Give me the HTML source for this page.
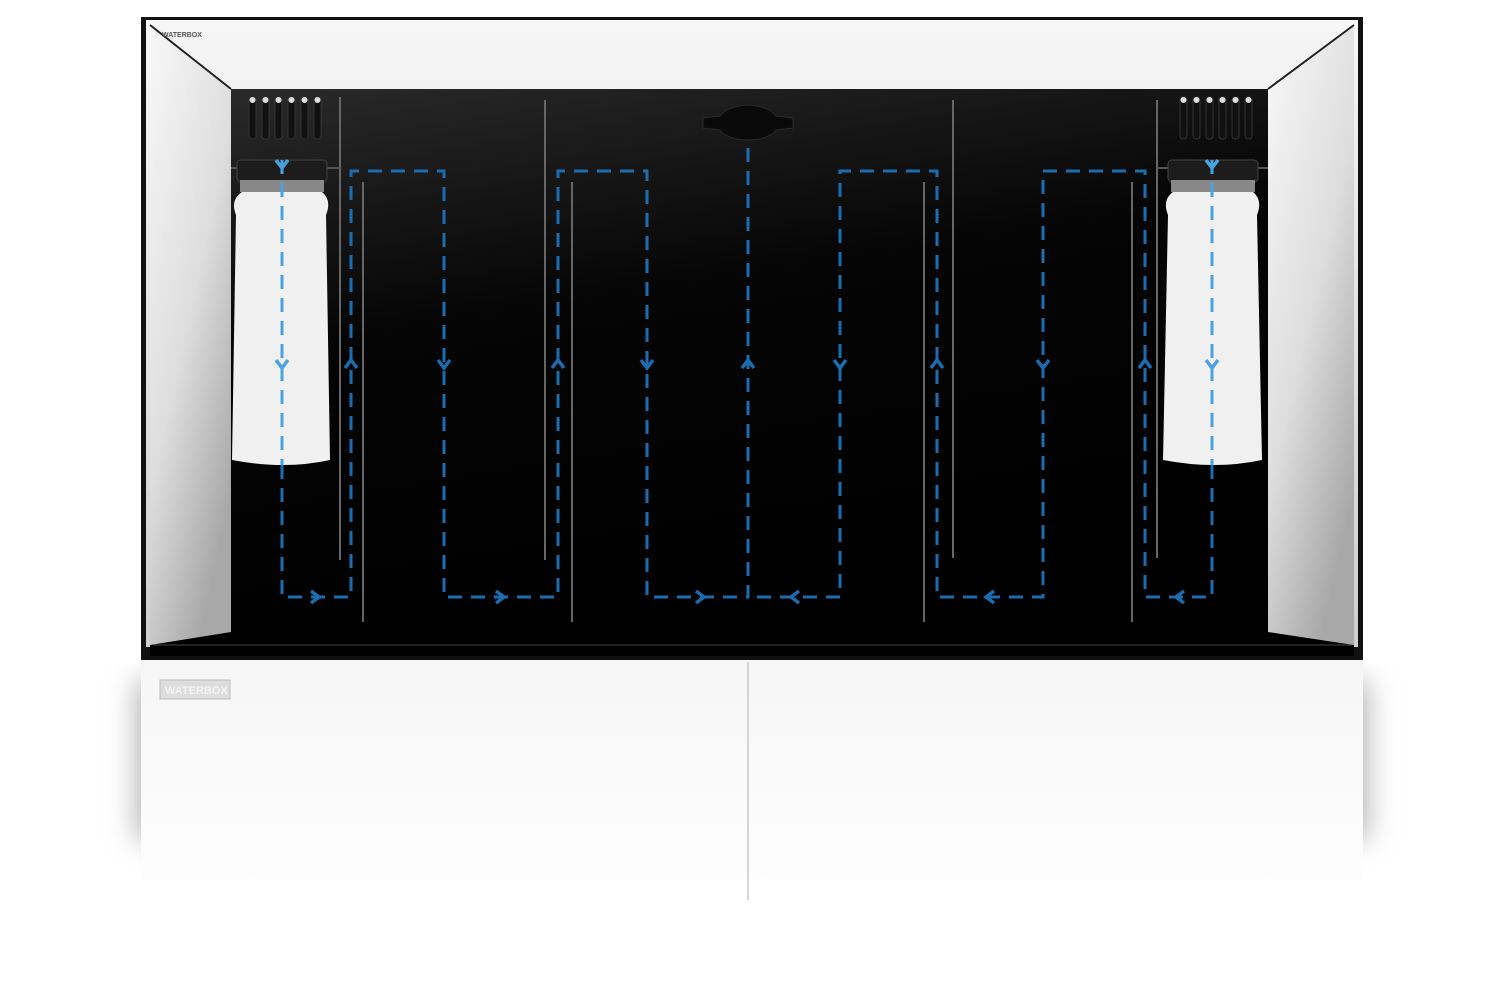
<!DOCTYPE html>
<html><head><style>
html,body{margin:0;padding:0;background:#fff;width:1500px;height:1000px;overflow:hidden}
svg{display:block}
</style></head><body>
<svg width="1500" height="1000" viewBox="0 0 1500 1000" xmlns="http://www.w3.org/2000/svg">
<defs>
<linearGradient id="top" x1="0" y1="0" x2="0" y2="1"><stop offset="0" stop-color="#f6f6f6"/><stop offset="1" stop-color="#cfcfcf"/></linearGradient>
<linearGradient id="side" x1="0" y1="0" x2="0.6" y2="1"><stop offset="0" stop-color="#f8f8f8"/><stop offset="0.55" stop-color="#dedede"/><stop offset="1" stop-color="#a8a8a8"/></linearGradient>
<linearGradient id="back" x1="0" y1="0" x2="0.3" y2="1"><stop offset="0" stop-color="#2a2a2a"/><stop offset="0.45" stop-color="#050505"/><stop offset="1" stop-color="#000"/></linearGradient>
<linearGradient id="cab" x1="0" y1="0" x2="0" y2="1"><stop offset="0" stop-color="#f6f6f6"/><stop offset="0.7" stop-color="#fcfcfc"/><stop offset="1" stop-color="#fff"/></linearGradient>
<filter id="sh" x="-10%" y="-10%" width="120%" height="130%"><feGaussianBlur stdDeviation="14"/></filter>
</defs>
<rect x="136" y="680" width="1232" height="160" fill="#b5b5b5" filter="url(#sh)"/>
<rect x="141" y="660" width="1222" height="260" fill="url(#cab)"/>
<rect x="141" y="880" width="1222" height="60" fill="#fff"/>
<line x1="748" y1="662" x2="748" y2="900" stroke="#d5d5d5" stroke-width="2"/>
<rect x="160" y="680" width="70" height="19" fill="#ddd" stroke="#bbb"/>
<text x="165" y="694" font-family="Liberation Sans" font-size="11" font-weight="bold" fill="#f4f4f4">WATERBOX</text>
<rect x="141" y="17" width="1222" height="643" fill="#111"/>
<rect x="146" y="20" width="1212" height="627" fill="url(#top)"/>
<polygon points="150,25 231,89 231,632 150,645" fill="url(#side)"/>
<polygon points="1354,25 1268,89 1268,632 1354,645" fill="url(#side)"/>
<line x1="150" y1="25" x2="231" y2="89" stroke="#222" stroke-width="2"/>
<line x1="1354" y1="25" x2="1268" y2="89" stroke="#222" stroke-width="2"/>
<rect x="231" y="89" width="1037" height="545" fill="url(#back)"/>
<polygon points="150,645 231,632 1268,632 1354,645 1354,656 150,656" fill="#000"/>
<line x1="153" y1="645" x2="1352" y2="645" stroke="#444" stroke-width="1"/>
<text x="162" y="37" font-family="Liberation Sans" font-size="7" font-weight="bold" fill="#555">WATERBOX</text>
<g fill="#111" stroke="#333">
<rect x="249" y="97" width="7" height="42" rx="3"/><rect x="262" y="97" width="7" height="42" rx="3"/><rect x="275" y="97" width="7" height="42" rx="3"/><rect x="288" y="97" width="7" height="42" rx="3"/><rect x="301" y="97" width="7" height="42" rx="3"/><rect x="314" y="97" width="7" height="42" rx="3"/>
<rect x="1180" y="97" width="7" height="42" rx="3"/><rect x="1193" y="97" width="7" height="42" rx="3"/><rect x="1206" y="97" width="7" height="42" rx="3"/><rect x="1219" y="97" width="7" height="42" rx="3"/><rect x="1232" y="97" width="7" height="42" rx="3"/><rect x="1245" y="97" width="7" height="42" rx="3"/>
</g>
<g fill="#ddd">
<circle cx="252.5" cy="100" r="3"/><circle cx="265.5" cy="100" r="3"/><circle cx="278.5" cy="100" r="3"/><circle cx="291.5" cy="100" r="3"/><circle cx="304.5" cy="100" r="3"/><circle cx="317.5" cy="100" r="3"/>
<circle cx="1183.5" cy="100" r="3"/><circle cx="1196.5" cy="100" r="3"/><circle cx="1209.5" cy="100" r="3"/><circle cx="1222.5" cy="100" r="3"/><circle cx="1235.5" cy="100" r="3"/><circle cx="1248.5" cy="100" r="3"/>
</g>
<g stroke="#666" stroke-width="2">
<line x1="340" y1="97" x2="340" y2="560"/><line x1="363" y1="182" x2="363" y2="622"/>
<line x1="545" y1="100" x2="545" y2="560"/><line x1="572" y1="182" x2="572" y2="622"/>
<line x1="953" y1="100" x2="953" y2="558"/><line x1="924" y1="182" x2="924" y2="622"/>
<line x1="1157" y1="100" x2="1157" y2="558"/><line x1="1132" y1="182" x2="1132" y2="622"/>
</g>
<line x1="231" y1="168" x2="340" y2="168" stroke="#555" stroke-width="2"/>
<line x1="1157" y1="168" x2="1268" y2="168" stroke="#555" stroke-width="2"/>
<path d="M703,118 L720,116 Q728,106 748,105 Q768,106 776,116 L793,118 L793,128 L776,130 Q768,140 748,140 Q728,140 720,130 L703,128 Z" fill="#0a0a0a" stroke="#2a2a2a"/>
<rect x="237" y="160" width="90" height="22" rx="4" fill="#1c1c1c" stroke="#444"/>
<rect x="240" y="180" width="84" height="12" fill="#888"/>
<path d="M242,192 L322,192 Q332,200 326,215 L330,460 Q285,470 232,460 L236,215 Q230,200 242,192Z" fill="#f0f0f0"/>
<rect x="1168" y="160" width="90" height="22" rx="4" fill="#1c1c1c" stroke="#444"/>
<rect x="1171" y="180" width="84" height="12" fill="#888"/>
<path d="M1173,192 L1253,192 Q1263,200 1257,215 L1262,460 Q1215,470 1163,460 L1168,215 Q1162,200 1173,192Z" fill="#f0f0f0"/>
<g fill="none" stroke="#1c6db0" stroke-width="3" stroke-dasharray="14,9">
<path d="M282,465 L282,597 L351,597 L351,171 L444,171 L444,597 L558,597 L558,171 L647,171 L647,597 L748,597 L748,148"/>
<path d="M1212,465 L1212,597 L1145,597 L1145,171 L1043,171 L1043,597 L937,597 L937,171 L840,171 L840,597 L748,597"/>
</g>
<g fill="none" stroke="#4aa3e0" stroke-width="3" stroke-dasharray="14,9">
<line x1="282" y1="160" x2="282" y2="465"/><line x1="1212" y1="160" x2="1212" y2="465"/>
</g>
<g fill="none" stroke="#1c6db0" stroke-width="3.5">
<path d="M345,368 L351,360 L357,368"/><path d="M438,360 L444,368 L450,360"/>
<path d="M552,368 L558,360 L564,368"/><path d="M641,360 L647,368 L653,360"/>
<path d="M742,368 L748,360 L754,368"/><path d="M834,360 L840,368 L846,360"/>
<path d="M931,368 L937,360 L943,368"/><path d="M1037,360 L1043,368 L1049,360"/>
<path d="M1139,368 L1145,360 L1151,368"/>
<path d="M311,591 L319,597 L311,603"/><path d="M496,591 L504,597 L496,603"/>
<path d="M696,591 L704,597 L696,603"/><path d="M799,591 L791,597 L799,603"/>
<path d="M994,591 L986,597 L994,603"/><path d="M1184,591 L1176,597 L1184,603"/>
</g>
<g fill="none" stroke="#4aa3e0" stroke-width="3.5">
<path d="M276,360 L282,368 L288,360"/><path d="M1206,360 L1212,368 L1218,360"/>
<path d="M276,160 L282,168 L288,160"/><path d="M1206,160 L1212,168 L1218,160"/>
</g>
</svg>
</body></html>
